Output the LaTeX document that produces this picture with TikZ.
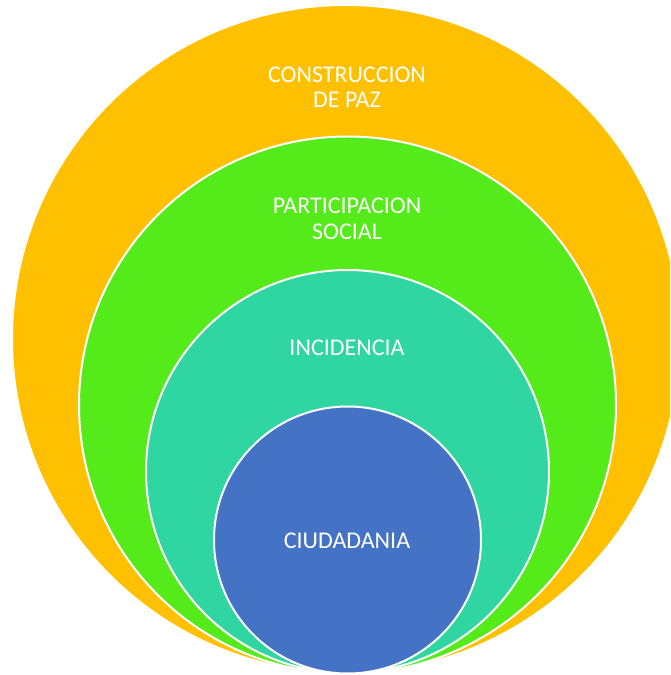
\documentclass[tikz,border=0pt]{standalone}
\usepackage{fontspec}
\setmainfont{Carlito}
\definecolor{cOrange}{HTML}{FFC000}
\definecolor{cGreen}{HTML}{55EB1A}
\definecolor{cTeal}{HTML}{2FD6A2}
\definecolor{cBlue}{HTML}{4472C4}
\tikzset{
  ring/.style={draw=white, line width=2pt},
  lbl/.style={text=white, font=\fontsize{24}{25.3}\selectfont, align=center, inner sep=0pt, anchor=center}
}
\begin{document}
\begin{tikzpicture}[x=1pt,y=1pt]
\useasboundingbox (0,0) rectangle (670,675);
\begin{scope}
\clip (0,0) rectangle (670,675);
\fill[white] (0,0) rectangle (670,675);
\filldraw[ring, fill=cOrange] (346,336) circle (334);
\filldraw[ring, fill=cGreen] (347.5,270) circle (268.5);
\filldraw[ring, fill=cTeal] (347.5,203.5) circle (201.5);
\filldraw[ring, fill=cBlue] (347.5,135) circle (133.5);
\end{scope}
\node[lbl] (paz) at (347,675-87.4) {CONSTRUCCION\\DE PAZ};
\node[lbl] (part) at (347,675-218.7) {PARTICIPACION\\SOCIAL};
\node[lbl] (inc) at (347,675-347.7) {INCIDENCIA};
\node[lbl] (ciu) at (347,675-540.5) {CIUDADANIA};
\end{tikzpicture}
\end{document}
